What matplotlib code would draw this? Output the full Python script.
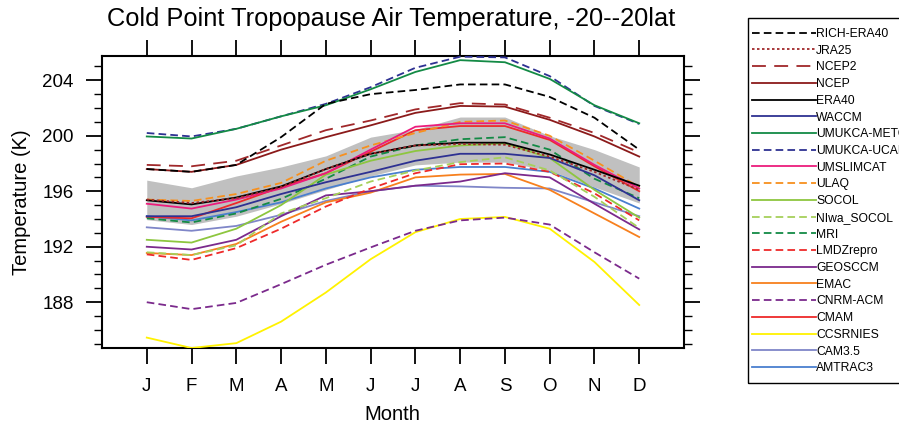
import matplotlib
matplotlib.use('Agg')
import matplotlib.pyplot as plt
import numpy as np
from matplotlib.patches import Rectangle
from matplotlib.ticker import MultipleLocator

plt.rcParams['font.family'] = ['Liberation Sans', 'DejaVu Sans']
plt.rcParams['lines.scale_dashes'] = False

months = ['J', 'F', 'M', 'A', 'M', 'J', 'J', 'A', 'S', 'O', 'N', 'D']
x = np.arange(1, 13)

# grey band (range)
band_top = [196.8, 196.25, 197.1, 197.75, 198.55, 199.9, 200.45, 201.35, 201.35, 200.0, 199.0, 197.75]
band_bot = [193.95, 193.6, 194.2, 195.1, 196.1, 197.1, 197.9, 198.1, 198.1, 197.5, 196.3, 195.15]

rich_era40 = [197.6, 197.4, 197.9, 199.9, 202.3, 203.0, 203.3, 203.7, 203.7, 202.8, 201.3, 199.0]
jra25 = [195.4, 195.15, 195.5, 196.3, 197.6, 198.7, 199.3, 199.4, 199.35, 198.5, 197.4, 196.1]
ncep2 = [197.9, 197.8, 198.2, 199.3, 200.4, 201.1, 201.9, 202.35, 202.25, 201.3, 200.2, 198.8]
ncep = [197.6, 197.4, 197.9, 199.0, 199.9, 200.75, 201.65, 202.15, 202.1, 201.15, 199.95, 198.5]
era40 = [195.35, 195.05, 195.55, 196.35, 197.6, 198.7, 199.3, 199.5, 199.5, 198.65, 197.55, 196.4]
waccm = [194.2, 194.2, 194.85, 195.8, 196.65, 197.4, 198.2, 198.7, 198.7, 198.4, 197.15, 195.35]
umukca_meto = [199.95, 199.8, 200.5, 201.4, 202.2, 203.35, 204.6, 205.45, 205.3, 204.1, 202.2, 200.9]
umukca_ucam = [200.2, 199.95, 200.5, 201.4, 202.3, 203.5, 204.9, 205.7, 205.65, 204.3, 202.15, 200.85]
umslimcat = [195.1, 194.75, 195.4, 196.2, 197.3, 199.0, 200.65, 200.9, 200.9, 199.8, 197.9, 196.2]
ulaq = [195.4, 195.3, 195.8, 196.6, 198.2, 199.3, 200.2, 201.0, 201.1, 200.0, 198.2, 196.3]
socol = [192.5, 192.3, 193.3, 195.0, 197.2, 198.2, 198.9, 199.3, 199.45, 198.4, 196.1, 194.1]
niwa_socol = [191.6, 191.4, 192.1, 194.4, 195.5, 196.7, 197.5, 198.1, 198.45, 197.5, 195.6, 193.35]
mri = [194.05, 193.75, 194.4, 195.45, 196.9, 198.5, 199.3, 199.75, 199.9, 199.0, 196.9, 195.5]
lmdzrepro = [191.45, 191.05, 191.9, 193.3, 194.9, 196.2, 197.3, 197.95, 198.0, 197.4, 195.85, 193.9]
geosccm = [192.0, 191.8, 192.5, 194.2, 195.7, 196.0, 196.4, 196.7, 197.3, 197.0, 195.1, 193.25]
emac = [191.55, 191.4, 192.2, 193.8, 195.2, 195.9, 197.0, 197.2, 197.25, 196.1, 194.4, 192.7]
cnrm_acm = [188.0, 187.5, 187.95, 189.3, 190.7, 191.95, 193.15, 193.9, 194.1, 193.6, 191.6, 189.7]
cmam = [194.15, 194.05, 195.15, 196.3, 197.3, 198.85, 200.4, 200.7, 200.7, 199.7, 197.8, 196.0]
ccsrnies = [185.45, 184.7, 185.05, 186.6, 188.7, 191.1, 193.05, 194.0, 194.15, 193.3, 190.9, 187.8]
cam35 = [193.4, 193.15, 193.5, 194.3, 195.3, 196.0, 196.4, 196.35, 196.25, 196.2, 195.2, 194.2]
amtrac3 = [194.2, 193.9, 194.5, 195.2, 196.2, 197.0, 197.55, 197.75, 197.75, 197.4, 196.2, 194.75]

series = [
    ('RICH-ERA40', rich_era40, 'black', (5.5, 3)),
    ('JRA25', jra25, '#a0282a', (1.8, 1.8)),
    ('NCEP2', ncep2, '#a0282a', (10, 6)),
    ('NCEP', ncep, '#8b1a1a', None),
    ('ERA40', era40, 'black', None),
    ('WACCM', waccm, '#2e3192', None),
    ('UMUKCA-METO', umukca_meto, '#138a45', None),
    ('UMUKCA-UCAM', umukca_ucam, '#2e3192', (5.5, 3)),
    ('UMSLIMCAT', umslimcat, '#ec1c7c', None),
    ('ULAQ', ulaq, '#f7901e', (5.5, 3)),
    ('SOCOL', socol, '#8dc63f', None),
    ('NIwa_SOCOL', niwa_socol, '#a6d05a', (5.5, 3)),
    ('MRI', mri, '#138a45', (5.5, 3)),
    ('LMDZrepro', lmdzrepro, '#ee2a2a', (5.5, 3)),
    ('GEOSCCM', geosccm, '#7b2a8c', None),
    ('EMAC', emac, '#f7801e', None),
    ('CNRM-ACM', cnrm_acm, '#7b2a8c', (5.5, 3)),
    ('CMAM', cmam, '#ee2a2a', None),
    ('CCSRNIES', ccsrnies, '#fff200', None),
    ('CAM3.5', cam35, '#7f86c8', None),
    ('AMTRAC3', amtrac3, '#4a7fcf', None),
]

fig = plt.figure(figsize=(8.99, 4.24), dpi=100)
ax = fig.add_axes([102 / 899, 76 / 424, 582 / 899, 292 / 424])

ax.fill_between(x, band_bot, band_top, color='#c0c0c0', linewidth=0, zorder=1)

handles = {}
for i, (name, vals, col, dash) in enumerate(reversed(series)):
    ln, = ax.plot(x, vals, color=col, linewidth=1.3, zorder=2 + i)
    if dash is not None:
        ln.set_dashes(dash)
    handles[name] = ln

ax.set_xlim(0, 13)
ax.set_ylim(184.7, 205.75)
ax.set_xticks(x)
ax.set_xticklabels(months, fontsize=13.5)
ax.set_yticks([188, 192, 196, 200, 204])
ax.yaxis.set_minor_locator(MultipleLocator(1))
ax.tick_params(axis='both', which='major', direction='out', length=11.5, width=1.3,
               top=True, right=True, labelsize=13.5)
ax.tick_params(axis='y', which='minor', direction='out', length=5.8, width=1.0, right=True)
ax.tick_params(axis='x', pad=10)
ax.tick_params(axis='y', pad=9)
for s in ax.spines.values():
    s.set_linewidth(1.5)

fig.text(391 / 899, 1 - 19 / 424, 'Cold Point Tropopause Air Temperature, -20--20lat',
         ha='center', va='center', fontsize=18.3)
fig.text(392 / 899, 1 - 414 / 424, 'Month', ha='center', va='center', fontsize=14.5)
fig.text(22 / 899, 1 - 202 / 424, 'Temperature (K)', ha='center', va='center',
         rotation=90, fontsize=14.5)

# legend runs past the right edge of the figure, as in the original
fig.legend([handles[s[0]] for s in series], [s[0] for s in series],
           loc='upper left', bbox_to_anchor=(752 / 899, 1 - 28 / 424),
           frameon=False, fontsize=8.7, handlelength=5.3, handletextpad=0.0,
           labelspacing=0.39, borderpad=0, borderaxespad=0)
fig.patches.append(Rectangle((748 / 899, 1 - 383 / 424), 200 / 899, 365 / 424,
                             transform=fig.transFigure, fill=False,
                             edgecolor='black', linewidth=1.0))

fig.savefig('out.png', dpi=100)
